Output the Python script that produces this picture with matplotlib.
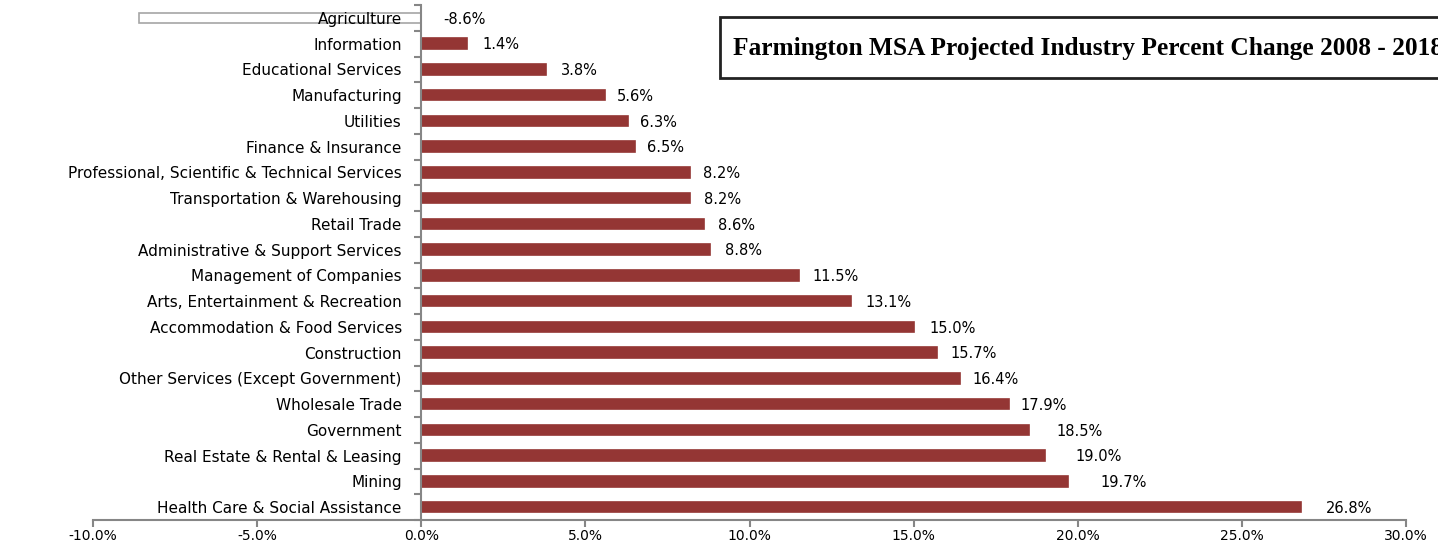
import numpy as np
import matplotlib.pyplot as plt
from matplotlib.patches import Rectangle
from matplotlib.transforms import offset_copy

industries = [
    "Agriculture", "Information", "Educational Services", "Manufacturing",
    "Utilities", "Finance & Insurance",
    "Professional, Scientific & Technical Services",
    "Transportation & Warehousing", "Retail Trade",
    "Administrative & Support Services", "Management of Companies",
    "Arts, Entertainment & Recreation", "Accommodation & Food Services",
    "Construction", "Other Services (Except Government)", "Wholesale Trade",
    "Government", "Real Estate & Rental & Leasing", "Mining",
    "Health Care & Social Assistance",
]
pct_change = [-8.6, 1.4, 3.8, 5.6, 6.3, 6.5, 8.2, 8.2, 8.6, 8.8,
              11.5, 13.1, 15.0, 15.7, 16.4, 17.9, 18.5, 19.0, 19.7, 26.8]
x_ticks = [-10, -5, 0, 5, 10, 15, 20, 25, 30]

# gap (in pixels) between bar end and its value label, as placed in the original
label_gap = [22, 15, 15, 12, 12, 12, 13, 14, 14, 15,
             14, 14, 16, 14, 13, 12, 28, 31, 33, 25]

W, H = 1438, 543
fig = plt.figure(figsize=(W / 100, H / 100), dpi=100)
ax = fig.add_axes([93 / W, 1 - 520 / H, (1406 - 93) / W, (520 - 5) / H])

# spines first: moving a spine resets the ticks
for s in ['top', 'right']:
    ax.spines[s].set_visible(False)
ax.spines['left'].set_position(('data', 0))
ax.spines['left'].set_color('#868686')
ax.spines['left'].set_linewidth(1.5)
ax.spines['bottom'].set_color('#868686')
ax.spines['bottom'].set_linewidth(1.5)

n = len(industries)
y = np.arange(n)
face = ['white' if v < 0 else '#943634' for v in pct_change]
edge = ['#a6a6a6' if v < 0 else '#943634' for v in pct_change]
ax.barh(y, pct_change, height=0.4, color=face, edgecolor=edge, linewidth=1.2, zorder=1)

ax.set_ylim(n - 0.5, -0.5)
ax.set_xlim(-10, 30)

fnt = 'DejaVu Sans'
for yi, v, g in zip(y, pct_change, label_gap):
    tr = offset_copy(ax.transData, fig=fig, x=g * 0.72, y=0, units='points')
    ax.text(max(v, 0), yi + 0.05, f"{v:.1f}%", va='center', ha='left',
            fontsize=10.5, family=fnt, color='black', transform=tr)

ax.set_yticks(y)
ax.set_yticklabels(industries)
ax.set_yticks(np.arange(n + 1) - 0.5, minor=True)
ax.tick_params(axis='y', which='major', length=0, pad=14, labelsize=11,
               labelfontfamily=fnt)
ax.tick_params(axis='y', which='minor', length=5, width=1.5, color='#868686')
for lbl in ax.get_yticklabels():
    lbl.set_zorder(5)

ax.set_xticks(x_ticks)
ax.set_xticklabels([f"{t:.1f}%" for t in x_ticks])
ax.tick_params(axis='x', length=5, width=1.5, color='#868686', pad=1.5,
               labelsize=10, labelfontfamily=fnt)

# title box (runs past the right edge of the figure)
fig.patches.append(Rectangle((720 / W, 1 - 78 / H), 740 / W, 61 / H,
                             transform=fig.transFigure, facecolor='white',
                             edgecolor='#222222', linewidth=2, zorder=10))
fig.text(733 / W, 1 - 55 / H, "Farmington MSA Projected Industry Percent Change 2008 - 2018",
         family='Liberation Serif', fontweight='bold', fontsize=18.3,
         va='baseline', ha='left', zorder=11)

fig.savefig("out.png", dpi=100)
